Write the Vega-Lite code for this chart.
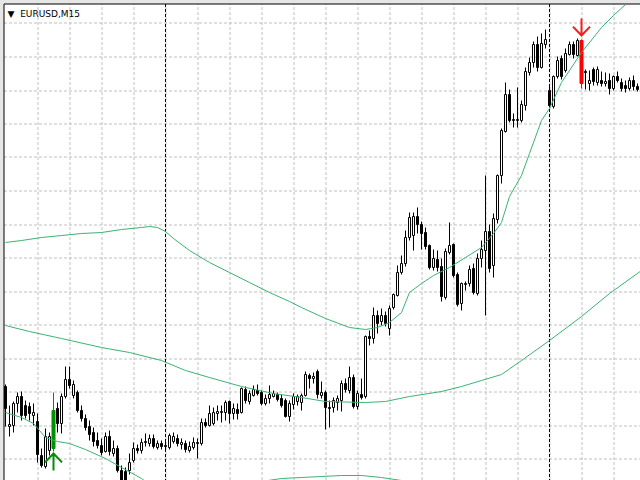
{
"$schema": "https://vega.github.io/schema/vega-lite/v6.json",
"width": 636, "height": 476,
"autosize": {"type": "none"},
"padding": {"left": 4, "top": 4, "right": 0, "bottom": 0},
"background": "#e6e6e6",
"config": {"view": {"stroke": null, "fill": "white"}, "scale": {"continuousPadding": 0}},
"title": {"text": "▼\u2007EURUSD,M15", "anchor": "start", "frame": "group", "orient": "top", "offset": -22.5, "dx": 3.5, "font": "DejaVu Sans", "fontSize": 9, "fontWeight": "normal", "color": "black", "baseline": "alphabetic"},
"datasets": {
"candles": [
{"i":0,"o":94,"h":96,"l":54,"c":72},{"i":1,"o":54,"h":75,"l":44,"c":56},{"i":2,"o":55,"h":79,"l":48,"c":77},{"i":3,"o":77,"h":88,"l":68,"c":84},
{"i":4,"o":84,"h":89,"l":60,"c":65},{"i":5,"o":75,"h":80,"l":62,"c":65},{"i":6,"o":74,"h":78,"l":60,"c":67},{"i":7,"o":65,"h":77,"l":55,"c":68},
{"i":8,"o":59,"h":67,"l":18,"c":26},{"i":9,"o":25,"h":32,"l":13,"c":15},{"i":10,"o":14,"h":52,"l":12,"c":44},{"i":11,"o":30,"h":48,"l":25,"c":44},
{"i":12,"o":32,"h":88,"l":29,"c":70,"s":"buy"},{"i":13,"o":72,"h":78,"l":48,"c":57},{"i":14,"o":57,"h":87,"l":47,"c":84},{"i":15,"o":84,"h":114,"l":82,"c":101},
{"i":16,"o":101,"h":114,"l":92,"c":95},{"i":17,"o":85,"h":100,"l":82,"c":96},{"i":18,"o":88,"h":90,"l":68,"c":70},{"i":19,"o":70,"h":75,"l":59,"c":62},
{"i":20,"o":62,"h":66,"l":50,"c":53},{"i":21,"o":54,"h":60,"l":40,"c":46},{"i":22,"o":48,"h":53,"l":34,"c":39},{"i":23,"o":40,"h":48,"l":32,"c":35},
{"i":24,"o":35,"h":42,"l":25,"c":28},{"i":25,"o":29,"h":48,"l":28,"c":44},{"i":26,"o":44,"h":50,"l":25,"c":29},{"i":27,"o":27,"h":40,"l":24,"c":32},
{"i":28,"o":32,"h":35,"l":8,"c":10},{"i":29,"o":10,"h":15,"l":-2,"c":0},{"i":30,"o":9,"h":13,"l":-3,"c":0},{"i":31,"o":10,"h":27,"l":6,"c":18},
{"i":32,"o":20,"h":38,"l":18,"c":32},{"i":33,"o":32,"h":36,"l":27,"c":30},{"i":34,"o":30,"h":42,"l":27,"c":38},{"i":35,"o":38,"h":47,"l":34,"c":39},
{"i":36,"o":37,"h":46,"l":34,"c":42},{"i":37,"o":42,"h":46,"l":32,"c":34},{"i":38,"o":33,"h":40,"l":31,"c":37},{"i":39,"o":37,"h":40,"l":31,"c":34},
{"i":40,"o":35,"h":39,"l":30,"c":34},{"i":41,"o":33,"h":47,"l":31,"c":45},{"i":42,"o":39,"h":48,"l":37,"c":44},{"i":43,"o":42,"h":46,"l":34,"c":37},
{"i":44,"o":36,"h":42,"l":31,"c":38},{"i":45,"o":37,"h":40,"l":28,"c":31},{"i":46,"o":30,"h":39,"l":28,"c":34},{"i":47,"o":33,"h":43,"l":31,"c":38},
{"i":48,"o":37,"h":42,"l":22,"c":38},{"i":49,"o":37,"h":62,"l":35,"c":58},{"i":50,"o":58,"h":62,"l":53,"c":55},{"i":51,"o":55,"h":75,"l":54,"c":67},
{"i":52,"o":57,"h":73,"l":55,"c":68},{"i":53,"o":67,"h":75,"l":60,"c":69},{"i":54,"o":68,"h":75,"l":58,"c":69},{"i":55,"o":68,"h":80,"l":60,"c":78},
{"i":56,"o":79,"h":80,"l":57,"c":67},{"i":57,"o":67,"h":77,"l":61,"c":72},{"i":58,"o":71,"h":77,"l":61,"c":67},{"i":59,"o":68,"h":93,"l":67,"c":92},
{"i":60,"o":91,"h":94,"l":77,"c":80},{"i":61,"o":79,"h":90,"l":76,"c":87},{"i":62,"o":85,"h":95,"l":84,"c":91},{"i":63,"o":90,"h":96,"l":85,"c":87},
{"i":64,"o":88,"h":90,"l":75,"c":77},{"i":65,"o":77,"h":86,"l":75,"c":82},{"i":66,"o":82,"h":95,"l":77,"c":86},{"i":67,"o":84,"h":90,"l":83,"c":87},
{"i":68,"o":86,"h":88,"l":79,"c":81},{"i":69,"o":82,"h":86,"l":73,"c":75},{"i":70,"o":80,"h":82,"l":63,"c":64},{"i":71,"o":64,"h":80,"l":59,"c":77},
{"i":72,"o":76,"h":87,"l":71,"c":84},{"i":73,"o":79,"h":86,"l":75,"c":84},{"i":74,"o":78,"h":87,"l":70,"c":85},{"i":75,"o":85,"h":109,"l":84,"c":106},
{"i":76,"o":105,"h":107,"l":92,"c":102},{"i":77,"o":102,"h":108,"l":97,"c":104},{"i":78,"o":109,"h":111,"l":82,"c":86},{"i":79,"o":85,"h":99,"l":82,"c":88},
{"i":80,"o":88,"h":90,"l":51,"c":73},{"i":81,"o":73,"h":80,"l":53,"c":72},{"i":82,"o":73,"h":83,"l":68,"c":80},{"i":83,"o":78,"h":85,"l":70,"c":82},
{"i":84,"o":80,"h":100,"l":69,"c":97},{"i":85,"o":97,"h":102,"l":88,"c":91},{"i":86,"o":90,"h":114,"l":87,"c":103},{"i":87,"o":103,"h":106,"l":72,"c":74},
{"i":88,"o":74,"h":90,"l":71,"c":87},{"i":89,"o":86,"h":102,"l":81,"c":83},{"i":90,"o":84,"h":145,"l":82,"c":144},{"i":91,"o":144,"h":150,"l":135,"c":142},
{"i":92,"o":142,"h":173,"l":137,"c":165},{"i":93,"o":165,"h":170,"l":147,"c":157},{"i":94,"o":159,"h":172,"l":155,"c":165},{"i":95,"o":165,"h":169,"l":154,"c":157},
{"i":96,"o":152,"h":175,"l":145,"c":172},{"i":97,"o":173,"h":187,"l":171,"c":186},{"i":98,"o":185,"h":215,"l":184,"c":208},{"i":99,"o":208,"h":225,"l":206,"c":217},
{"i":100,"o":217,"h":250,"l":214,"c":243},{"i":101,"o":243,"h":268,"l":240,"c":263},{"i":102,"o":245,"h":268,"l":230,"c":264},{"i":103,"o":264,"h":273,"l":247,"c":256},
{"i":104,"o":256,"h":259,"l":231,"c":247},{"i":105,"o":248,"h":253,"l":231,"c":234},{"i":106,"o":235,"h":236,"l":211,"c":213},{"i":107,"o":213,"h":231,"l":210,"c":222},
{"i":108,"o":221,"h":230,"l":209,"c":213},{"i":109,"o":214,"h":222,"l":179,"c":184},{"i":110,"o":183,"h":232,"l":181,"c":229},{"i":111,"o":228,"h":258,"l":226,"c":235},
{"i":112,"o":236,"h":237,"l":203,"c":205},{"i":113,"o":206,"h":208,"l":174,"c":176},{"i":114,"o":177,"h":198,"l":170,"c":197},{"i":115,"o":196,"h":199,"l":190,"c":197},
{"i":116,"o":197,"h":215,"l":194,"c":211},{"i":117,"o":212,"h":217,"l":186,"c":188},{"i":118,"o":187,"h":227,"l":185,"c":222},{"i":119,"o":222,"h":240,"l":213,"c":231},
{"i":120,"o":230,"h":305,"l":165,"c":249},{"i":121,"o":249,"h":256,"l":208,"c":212},{"i":122,"o":215,"h":267,"l":203,"c":262},{"i":123,"o":261,"h":306,"l":257,"c":305},
{"i":124,"o":305,"h":352,"l":297,"c":350},{"i":125,"o":349,"h":398,"l":348,"c":386},{"i":126,"o":386,"h":391,"l":358,"c":360},{"i":127,"o":360,"h":367,"l":353,"c":361},
{"i":128,"o":360,"h":393,"l":353,"c":361},{"i":129,"o":360,"h":380,"l":358,"c":376},{"i":130,"o":375,"h":413,"l":370,"c":409},{"i":131,"o":408,"h":423,"l":405,"c":418},
{"i":132,"o":418,"h":439,"l":413,"c":436},{"i":133,"o":436,"h":444,"l":409,"c":413},{"i":134,"o":413,"h":447,"l":412,"c":437},{"i":135,"o":436,"h":451,"l":432,"c":441},
{"i":136,"o":390,"h":396,"l":373,"c":375},{"i":137,"o":374,"h":405,"l":372,"c":404},{"i":138,"o":404,"h":424,"l":402,"c":420},{"i":139,"o":422,"h":425,"l":401,"c":404},
{"i":140,"o":410,"h":432,"l":408,"c":427},{"i":141,"o":426,"h":439,"l":425,"c":436},{"i":142,"o":436,"h":439,"l":422,"c":426},{"i":143,"o":425,"h":442,"l":424,"c":440},
{"i":144,"o":440,"h":441,"l":392,"c":397,"s":"sell"},{"i":145,"o":409,"h":411,"l":391,"c":408},{"i":146,"o":397,"h":410,"l":390,"c":400},{"i":147,"o":411,"h":413,"l":395,"c":399},
{"i":148,"o":398,"h":414,"l":395,"c":411},{"i":149,"o":400,"h":409,"l":394,"c":397},{"i":150,"o":397,"h":408,"l":394,"c":399},{"i":151,"o":400,"h":407,"l":386,"c":392},
{"i":152,"o":392,"h":405,"l":390,"c":404},{"i":153,"o":404,"h":409,"l":398,"c":400},{"i":154,"o":398,"h":402,"l":389,"c":392},{"i":155,"o":395,"h":400,"l":388,"c":392},
{"i":156,"o":392,"h":403,"l":390,"c":400},{"i":157,"o":400,"h":405,"l":390,"c":394},{"i":158,"o":394,"h":397,"l":389,"c":391}
],
"bands": [
{"part":"upper","i":0,"v":238},{"part":"upper","i":4,"v":240},{"part":"upper","i":9,"v":243},{"part":"upper","i":14,"v":245},{"part":"upper","i":19,"v":247},{"part":"upper","i":24,"v":248},{"part":"upper","i":29,"v":251},{"part":"upper","i":34,"v":253},{"part":"upper","i":36,"v":254},{"part":"upper","i":38,"v":253},{"part":"upper","i":40,"v":249},{"part":"upper","i":42,"v":242},{"part":"upper","i":46,"v":230},{"part":"upper","i":51,"v":218},{"part":"upper","i":56,"v":208},{"part":"upper","i":61,"v":198},{"part":"upper","i":66,"v":188},{"part":"upper","i":71,"v":179},{"part":"upper","i":74,"v":173},{"part":"upper","i":80,"v":162},{"part":"upper","i":86,"v":153},{"part":"upper","i":90,"v":151},{"part":"upper","i":93,"v":153},{"part":"upper","i":96,"v":158},{"part":"upper","i":99,"v":168},{"part":"upper","i":101,"v":188},{"part":"upper","i":104,"v":197},{"part":"upper","i":107,"v":205},{"part":"upper","i":111,"v":213},{"part":"upper","i":115,"v":223},{"part":"upper","i":119,"v":233},{"part":"upper","i":122,"v":247},{"part":"upper","i":124,"v":258},{"part":"upper","i":126,"v":284},{"part":"upper","i":129,"v":305},{"part":"upper","i":131,"v":327},{"part":"upper","i":134,"v":360},{"part":"upper","i":136,"v":372},{"part":"upper","i":139,"v":398},{"part":"upper","i":144,"v":428},{"part":"upper","i":149,"v":453},{"part":"upper","i":152,"v":465},{"part":"upper","i":155,"v":476},{"part":"upper","i":157.5,"v":486},
{"part":"middle","i":0,"v":155},{"part":"middle","i":6,"v":149},{"part":"middle","i":14,"v":142},{"part":"middle","i":24,"v":133},{"part":"middle","i":31,"v":128},{"part":"middle","i":39,"v":120},{"part":"middle","i":45,"v":110},{"part":"middle","i":51,"v":103},{"part":"middle","i":59,"v":94},{"part":"middle","i":67,"v":87},{"part":"middle","i":74,"v":83},{"part":"middle","i":80,"v":79},{"part":"middle","i":90,"v":78},{"part":"middle","i":95,"v":79},{"part":"middle","i":101,"v":84},{"part":"middle","i":109,"v":89},{"part":"middle","i":114,"v":94},{"part":"middle","i":119,"v":100},{"part":"middle","i":124,"v":106},{"part":"middle","i":129,"v":120},{"part":"middle","i":136,"v":140},{"part":"middle","i":144,"v":164},{"part":"middle","i":151,"v":187},{"part":"middle","i":159,"v":210},
{"part":"lowerA","i":0,"v":68},{"part":"lowerA","i":4,"v":63},{"part":"lowerA","i":7,"v":57},{"part":"lowerA","i":10,"v":43},{"part":"lowerA","i":13,"v":39},{"part":"lowerA","i":16,"v":37},{"part":"lowerA","i":20,"v":31},{"part":"lowerA","i":25,"v":22},{"part":"lowerA","i":29,"v":13},{"part":"lowerA","i":34,"v":2},{"part":"lowerA","i":36,"v":-4},
{"part":"lowerB","i":64,"v":-1},{"part":"lowerB","i":69,"v":2},{"part":"lowerB","i":74,"v":3},{"part":"lowerB","i":79,"v":4},{"part":"lowerB","i":84,"v":5},{"part":"lowerB","i":89,"v":5},{"part":"lowerB","i":94,"v":3},{"part":"lowerB","i":99,"v":0},{"part":"lowerB","i":101,"v":-3}
],
"separators": [{"i":40},{"i":136}],
"arrows": [{"i":12,"v":18.5,"t":"buy"},{"i":144,"v":453.5,"t":"sell"}]
},
"layer": [
{"data": {"name": "separators"}, "mark": {"type": "rule", "color": "black", "strokeWidth": 1, "strokeDash": [3, 2]},
 "encoding": {"x": {"field": "i", "type": "quantitative", "scale": {"domain": [-0.375, 158.625], "nice": false, "zero": false, "padding": 0},
   "axis": {"orient": "top", "labels": false, "ticks": false, "title": null, "domainColor": "black", "translate": 0, "tickCount": 200, "grid": true, "gridColor": "#c0c0c0", "gridDash": [3, 2], "values": [8,16,24,32,40,48,56,64,72,80,88,96,104,112,120,128,136,144,152]}}}},
{"data": {"name": "candles"}, "mark": {"type": "rule", "strokeWidth": 1},
 "encoding": {"x": {"field": "i", "type": "quantitative", "scale": {"domain": [-0.375, 158.625], "nice": false, "zero": false, "padding": 0},
   "axis": {"orient": "top", "labels": false, "ticks": false, "title": null, "domainColor": "black", "translate": 0, "tickCount": 200, "grid": true, "gridColor": "#c0c0c0", "gridDash": [3, 2], "values": [8,16,24,32,40,48,56,64,72,80,88,96,104,112,120,128,136,144,152]}},
  "y": {"field": "l", "type": "quantitative", "scale": {"domain": [0.5, 476.5], "nice": false, "zero": false, "padding": 0},
   "axis": {"orient": "left", "labels": false, "ticks": false, "title": null, "domainColor": "black", "translate": 0, "tickCount": 200, "grid": true, "gridColor": "#c0c0c0", "gridDash": [3, 2], "values": [22,55,89,122,156,189,223,256,290,323,357,390,424,457]}},
  "y2": {"field": "h"},
  "color": {"condition": [{"test": "datum.s === 'buy'", "value": "#009000"}, {"test": "datum.s === 'sell'", "value": "#ff0000"}], "value": "black"}}},
{"data": {"name": "candles"}, "mark": {"type": "bar", "strokeWidth": 1},
 "encoding": {"x": {"field": "i", "type": "quantitative", "scale": {"domain": [-0.375, 158.625], "nice": false, "zero": false, "padding": 0}},
  "y": {"field": "o", "type": "quantitative", "scale": {"domain": [0.5, 476.5], "nice": false, "zero": false, "padding": 0}},
  "y2": {"field": "c"},
  "size": {"condition": {"test": "datum.s === 'buy' || datum.s === 'sell'", "value": 3}, "value": 2},
  "fill": {"condition": [{"test": "datum.s === 'buy'", "value": "#009000"}, {"test": "datum.s === 'sell'", "value": "#ff0000"}, {"test": "datum.c >= datum.o", "value": "white"}], "value": "black"},
  "stroke": {"condition": [{"test": "datum.s === 'buy'", "value": "#009000"}, {"test": "datum.s === 'sell'", "value": "#ff0000"}], "value": "black"}}},
{"data": {"name": "bands"}, "mark": {"type": "line", "color": "#3cb371", "strokeWidth": 1, "clip": true},
 "encoding": {"x": {"field": "i", "type": "quantitative", "scale": {"domain": [-0.375, 158.625], "nice": false, "zero": false, "padding": 0}},
  "y": {"field": "v", "type": "quantitative", "scale": {"domain": [0.5, 476.5], "nice": false, "zero": false, "padding": 0}},
  "detail": {"field": "part"}}},
{"data": {"name": "arrows"}, "mark": {"type": "point", "filled": false, "strokeWidth": 2, "size": 289, "opacity": 1},
 "encoding": {"x": {"field": "i", "type": "quantitative", "scale": {"domain": [-0.375, 158.625], "nice": false, "zero": false, "padding": 0}},
  "y": {"field": "v", "type": "quantitative", "scale": {"domain": [0.5, 476.5], "nice": false, "zero": false, "padding": 0}},
  "shape": {"condition": {"test": "datum.t === 'buy'", "value": "M0,1L0,-1M-1,0.05L0,-1L1,0.05"}, "value": "M0,-1L0,1M-1,-0.05L0,1L1,-0.05"},
  "stroke": {"condition": {"test": "datum.t === 'buy'", "value": "#009000"}, "value": "#ff1a1a"}}}
]
}
